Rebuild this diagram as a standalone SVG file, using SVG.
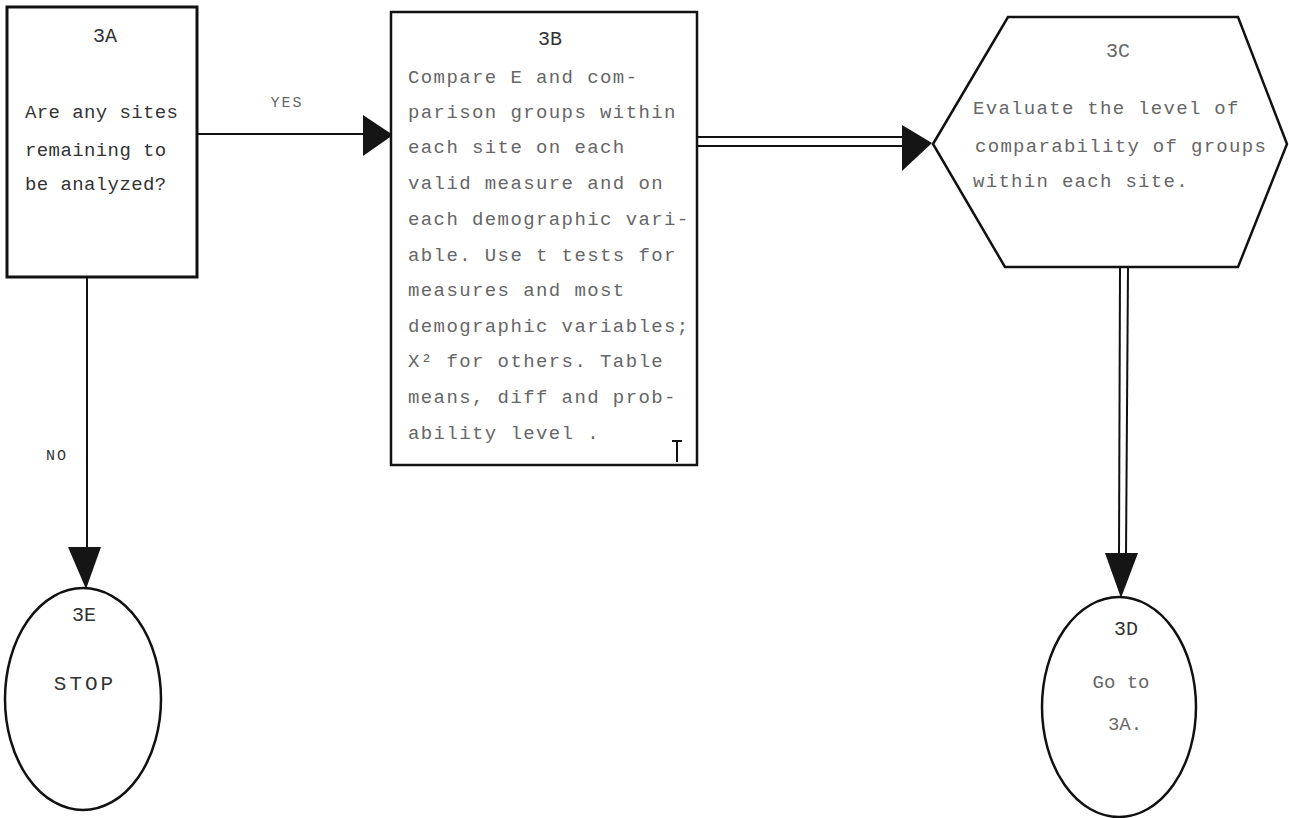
<svg xmlns="http://www.w3.org/2000/svg" width="1289" height="818" viewBox="0 0 1289 818">
  <style>
    .shape { fill: #ffffff; stroke: #111111; stroke-width: 2.5; }
    .line { fill: none; stroke: #111111; stroke-width: 2; }
    .head { fill: #151515; stroke: none; }
    .txt { font-family: "Liberation Mono", "DejaVu Sans Mono", monospace; font-size: 19px; fill: #333333; letter-spacing: 1.4px; }
    .faint { fill: #666666; }
    .label { font-size: 20px; letter-spacing: 0; }
    .small { font-size: 15px; letter-spacing: 2px; }
    .mid { text-anchor: middle; }
  </style>
  <rect width="1289" height="818" fill="#ffffff"/>

  <!-- connectors -->
  <g id="connectors">
    <!-- 3A to 3B (YES) -->
    <line class="line" x1="197" y1="134" x2="366" y2="134"/>
    <polygon class="head" points="363,115 393,135 363,156"/>
    <text class="txt small mid faint" x="287" y="107">YES</text>
    <!-- 3B to 3C (double line) -->
    <line class="line" x1="697" y1="137" x2="905" y2="137"/>
    <line class="line" x1="697" y1="146" x2="905" y2="146"/>
    <polygon class="head" points="902,125 932,143 902,171"/>
    <!-- 3A to 3E (NO) -->
    <line class="line" x1="87" y1="277" x2="87" y2="550"/>
    <polygon class="head" points="68,547 101,547 86,589"/>
    <text class="txt small mid" x="57" y="460">NO</text>
    <!-- 3C to 3D (double line) -->
    <line class="line" x1="1120" y1="267" x2="1119" y2="556"/>
    <line class="line" x1="1128" y1="267" x2="1126" y2="556"/>
    <polygon class="head" points="1105,553 1138,553 1121,598"/>
  </g>

  <!-- 3A: decision box -->
  <g id="node-3A">
    <rect class="shape" x="7" y="7" width="190" height="270" style="stroke-width:3"/>
    <text class="txt label mid" x="105" y="42">3A</text>
    <g class="txt" style="letter-spacing:0.4px">
      <text x="25" y="118">Are any sites</text>
      <text x="25" y="156">remaining to</text>
      <text x="25" y="190">be analyzed?</text>
    </g>
  </g>

  <!-- 3B: process box -->
  <g id="node-3B">
    <rect class="shape" x="391" y="12" width="306" height="453"/>
    <text class="txt label mid" x="550" y="45">3B</text>
    <g class="txt faint">
      <text x="408" y="83"> Compare E and com-</text>
      <text x="408" y="118">parison groups within</text>
      <text x="408" y="153">each site on each</text>
      <text x="408" y="189">valid measure and on</text>
      <text x="408" y="225">each demographic vari-</text>
      <text x="408" y="261">able. Use t tests for</text>
      <text x="408" y="296">measures and most</text>
      <text x="408" y="332">demographic variables;</text>
      <text x="408" y="367">X² for others. Table</text>
      <text x="408" y="403">means, diff and prob-</text>
      <text x="408" y="439">ability level .</text>
    </g>
    <line class="line" x1="677" y1="440" x2="677" y2="462"/>
    <line class="line" x1="672" y1="441" x2="682" y2="441"/>
  </g>

  <!-- 3C: evaluation hexagon -->
  <g id="node-3C">
    <polygon class="shape" points="933,144 1008,17 1238,17 1287,144 1238,267 1005,267"/>
    <text class="txt label mid faint" x="1118" y="57">3C</text>
    <g class="txt faint" style="letter-spacing:1.3px">
      <text x="973" y="114">Evaluate the level of</text>
      <text x="975" y="152">comparability of groups</text>
      <text x="973" y="187">within each site.</text>
    </g>
  </g>

  <!-- 3D: connector back to 3A -->
  <g id="node-3D">
    <ellipse class="shape" cx="1119" cy="707" rx="77" ry="110"/>
    <text class="txt label mid" x="1126" y="635">3D</text>
    <text class="txt mid faint" x="1121" y="688" style="letter-spacing:0">Go to</text>
    <text class="txt mid faint" x="1125" y="730" style="letter-spacing:0">3A.</text>
  </g>

  <!-- 3E: terminal -->
  <g id="node-3E">
    <ellipse class="shape" cx="83" cy="699" rx="78" ry="111"/>
    <text class="txt label mid" x="84" y="621">3E</text>
    <text class="txt mid" x="85" y="690" style="font-size:21px;letter-spacing:3px">STOP</text>
  </g>
</svg>
